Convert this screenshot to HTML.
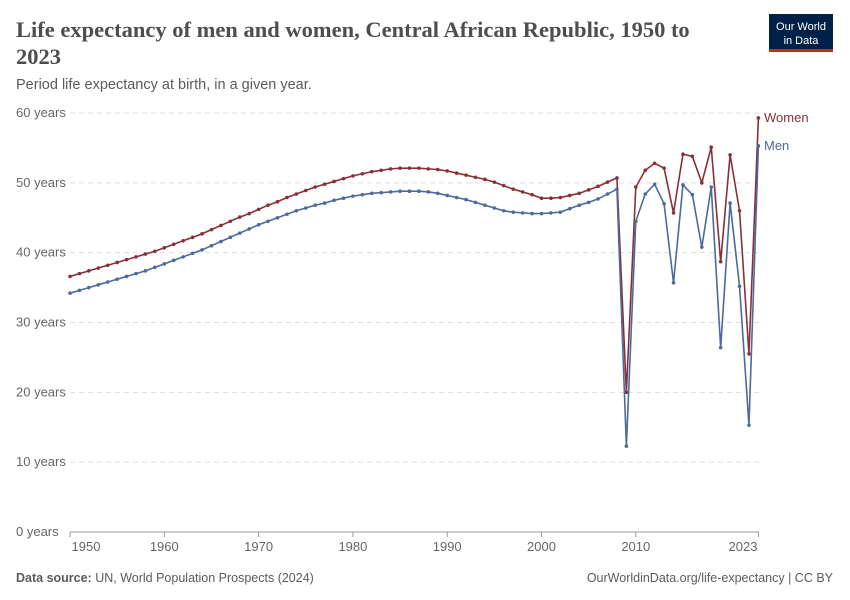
<!DOCTYPE html>
<html><head><meta charset="utf-8"><style>
body{margin:0;background:#fff;width:850px;height:600px;overflow:hidden;font-family:"Liberation Sans",sans-serif}
svg{position:absolute;left:0;top:0}
</style></head><body>
<svg width="850" height="600">
<text x="16" y="37" font-family="Liberation Serif,serif" font-size="22.5" font-weight="bold" fill="#4e4e4e">Life expectancy of men and women, Central African Republic, 1950 to</text>
<text x="16" y="64" font-family="Liberation Serif,serif" font-size="22.5" font-weight="bold" fill="#4e4e4e">2023</text>
<text x="16" y="89" font-size="14.5" fill="#5b5b5b">Period life expectancy at birth, in a given year.</text>
<g><rect x="769" y="14" width="64" height="38" fill="#002147"/><rect x="769" y="49" width="64" height="3" fill="#ce261e"/>
<text x="801" y="30" font-size="11" fill="#fff" text-anchor="middle">Our World</text><text x="801" y="44" font-size="11" fill="#fff" text-anchor="middle">in Data</text></g>
<g id="grid"></g><g id="xax"></g><g id="lines"></g>
<text x="16" y="582" font-size="12.5" fill="#5b5b5b"><tspan font-weight="bold">Data source:</tspan> UN, World Population Prospects (2024)</text>
<text x="833" y="582" font-size="12.5" fill="#5b5b5b" text-anchor="end">OurWorldinData.org/life-expectancy | CC BY</text>
</svg>
<script>
const years=[];for(let y=1950;y<=2023;y++)years.push(y);
const women=[36.6,37.0,37.4,37.8,38.2,38.6,39.0,39.4,39.8,40.2,40.7,41.2,41.7,42.2,42.7,43.3,43.9,44.5,45.1,45.6,46.2,46.8,47.3,47.9,48.4,48.9,49.4,49.8,50.2,50.6,51.0,51.3,51.6,51.8,52.0,52.1,52.1,52.1,52.0,51.9,51.7,51.4,51.1,50.8,50.5,50.1,49.6,49.1,48.7,48.3,47.8,47.8,47.9,48.2,48.5,49.0,49.5,50.1,50.7,20.0,49.4,51.8,52.8,52.1,45.7,54.1,53.8,50.0,55.1,38.7,54.0,46.0,25.5,59.3];
const men=[34.2,34.6,35.0,35.4,35.8,36.2,36.6,37.0,37.4,37.9,38.4,38.9,39.4,39.9,40.4,41.0,41.6,42.2,42.8,43.4,44.0,44.5,45.0,45.5,46.0,46.4,46.8,47.1,47.5,47.8,48.1,48.3,48.5,48.6,48.7,48.8,48.8,48.8,48.7,48.5,48.2,47.9,47.6,47.2,46.8,46.4,46.0,45.8,45.7,45.6,45.6,45.7,45.8,46.3,46.8,47.2,47.7,48.4,49.1,12.3,44.5,48.4,49.8,47.0,35.7,49.7,48.3,40.8,49.4,26.4,47.1,35.2,15.3,55.3];
const yTicks=[0,10,20,30,40,50,60];
const xTicks=[1950,1960,1970,1980,1990,2000,2010,2023];
const NS="http://www.w3.org/2000/svg";
const X=y=>70+(y-1950)*9.43, Y=v=>532-v*6.983;
function mk(t,a,p){const e=document.createElementNS(NS,t);for(const k in a)e.setAttribute(k,a[k]);p.appendChild(e);return e;}
const g=document.getElementById('grid');
yTicks.forEach(v=>{
 const l=mk('line',{x1:70,x2:759,y1:Y(v),y2:Y(v),stroke:'#ddd','stroke-dasharray':v?'5,4':'none'},g);
 
 
 const t=mk('text',{x:16,y:Y(v)+4,'font-size':13,fill:'#666'},g);t.textContent=v+' years';
 
 
});
const xa=document.getElementById('xax');
mk('line',{x1:70,x2:759,y1:532,y2:532,stroke:'#999'},xa);
xTicks.forEach(yr=>{
 mk('line',{x1:X(yr),x2:X(yr),y1:532,y2:537,stroke:'#999'},xa);
 let cx=X(yr);if(yr===1950)cx=86;if(yr===2023)cx=743;
 const t=mk('text',{x:cx,y:551,'font-size':13,fill:'#666','text-anchor':'middle'},xa);t.textContent=yr;
 
 
});
const L=document.getElementById('lines');
[[women,'#883039','Women'],[men,'#4c6a9c','Men']].forEach(([d,c,n])=>{
 const p=mk('polyline',{points:d.map((v,i)=>X(years[i])+','+Y(v)).join(' '),fill:'none',stroke:c,'stroke-width':1.6},L);
 
 
 d.forEach((v,i)=>{const c2=mk('circle',{cx:X(years[i]),cy:Y(v),r:1.8,fill:c},L);
  
  });
 const t=mk('text',{x:764,y:Y(d[d.length-1])+4,'font-size':13,fill:c},L);t.textContent=n;
 
 
});
</script>
</body></html>
